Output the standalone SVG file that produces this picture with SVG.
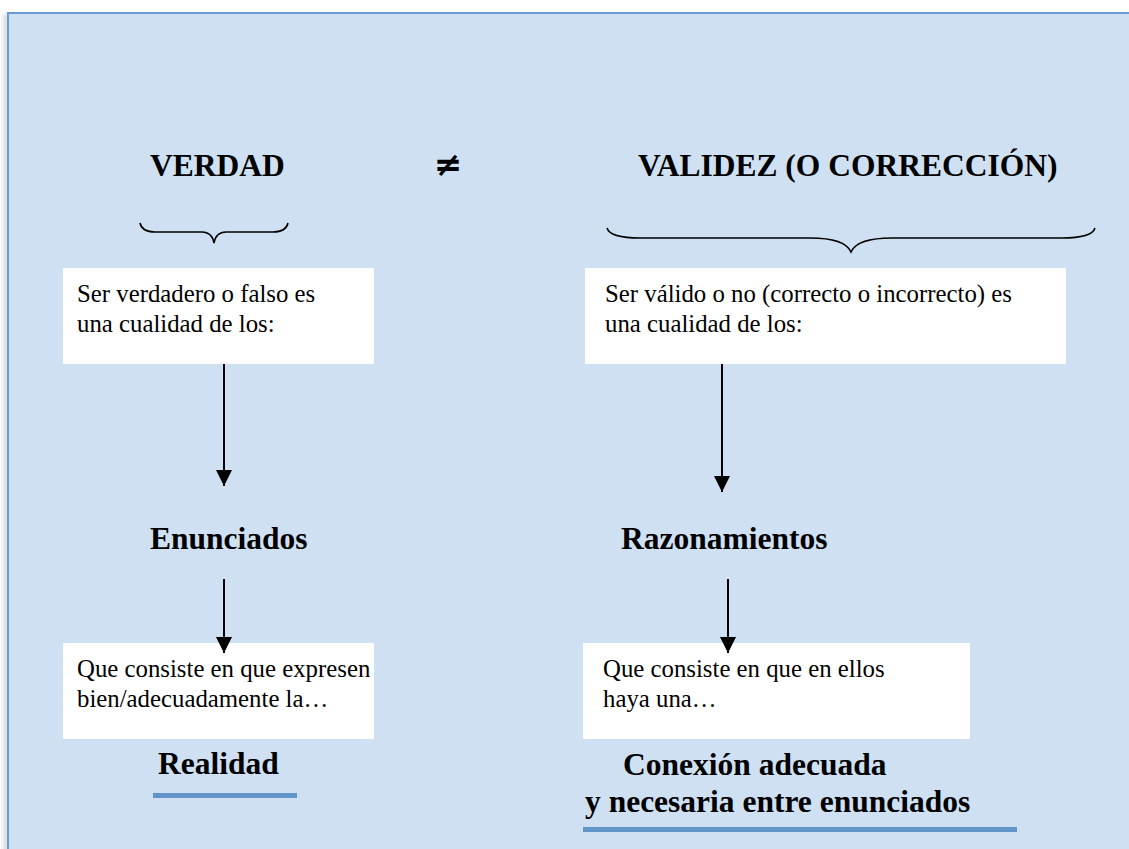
<svg xmlns="http://www.w3.org/2000/svg" width="1129" height="849" viewBox="0 0 1129 849">
<defs>
<style>
.h{font-family:"Liberation Serif","Times New Roman",serif;font-weight:bold;font-size:31.5px;fill:#000}
.t{font-family:"Liberation Serif","Times New Roman",serif;font-size:24.8px;fill:#000}
.box{fill:#fff;stroke:none}
.conn{stroke:#000;stroke-width:2;fill:none}
.brace{stroke:#000;stroke-width:1.6;fill:none}
.ul{stroke:#6194c9;stroke-width:5}
</style>
<marker id="ah" viewBox="0 0 16 16" refX="16" refY="8" markerWidth="16" markerHeight="16" markerUnits="userSpaceOnUse" orient="auto">
<path d="M0,0 L16,8 L0,16 Z" fill="#000"/>
</marker>
<filter id="sh" x="-20%" y="-50%" width="140%" height="400%">
<feGaussianBlur stdDeviation="2"/>
</filter>
</defs>
<rect x="0" y="0" width="1129" height="849" fill="#fff"/>
<rect x="3" y="14" width="8" height="840" fill="#ddd" filter="url(#sh)"/>
<rect id="panel" x="8" y="13" width="1130" height="850" fill="#cfe0f2" stroke="#6a9bd0" stroke-width="2"/>

<g id="titulo-verdad"><text class="h" x="150" y="176">VERDAD</text></g>
<g id="distinto"><text x="448" y="176" text-anchor="middle" style="font-family:'DejaVu Sans',sans-serif;font-weight:bold;font-size:34px">≠</text></g>
<g id="titulo-validez"><text class="h" x="638" y="176">VALIDEZ (O CORRECCIÓN)</text></g>

<g id="llave-izq"><path class="brace" d="M140,223 Q142,232 155,232 L202,232 Q212,232 214,243 Q216,232 226,232 L273,232 Q286,232 288,223"/></g>
<g id="llave-der"><path class="brace" d="M607,228 Q610,238 640,238 L810,238 Q845,238 851,252 Q857,238 892,238 L1062,238 Q1092,238 1095,228"/></g>

<g id="caja-verdad">
<rect class="box" x="63" y="268" width="311" height="96"/>
<text class="t" x="77" y="302">Ser verdadero o falso es</text>
<text class="t" x="77" y="332">una cualidad de los:</text>
</g>
<g id="caja-validez">
<rect class="box" x="585" y="268" width="481" height="96"/>
<text class="t" x="605" y="302">Ser válido o no (correcto o incorrecto) es</text>
<text class="t" x="605" y="332">una cualidad de los:</text>
</g>

<g id="enunciados"><text class="h" x="150" y="549">Enunciados</text></g>
<g id="razonamientos"><text class="h" x="621" y="549">Razonamientos</text></g>

<g id="caja-realidad">
<rect class="box" x="63" y="643" width="311" height="96"/>
<text class="t" x="77" y="677">Que consiste en que expresen</text>
<text class="t" x="77" y="707">bien/adecuadamente la…</text>
</g>
<g id="caja-conexion">
<rect class="box" x="583" y="643" width="387" height="96"/>
<text class="t" x="603" y="677">Que consiste en que en ellos</text>
<text class="t" x="603" y="707">haya una…</text>
</g>

<g id="realidad">
<text class="h" x="158" y="774">Realidad</text>
<line x1="153" y1="799" x2="297" y2="799" stroke="#555" stroke-width="4" opacity="0.5" filter="url(#sh)"/>
<line class="ul" x1="153" y1="795.5" x2="297" y2="795.5"/>
</g>
<g id="conexion">
<text class="h" x="623" y="775">Conexión adecuada</text>
<text class="h" x="585" y="812">y necesaria entre enunciados</text>
<line x1="583" y1="833" x2="1017" y2="833" stroke="#555" stroke-width="4" opacity="0.5" filter="url(#sh)"/>
<line class="ul" x1="583" y1="829.5" x2="1017" y2="829.5"/>
</g>

<g id="conectores">
<line class="conn" x1="224" y1="364" x2="224" y2="486" marker-end="url(#ah)"/>
<line class="conn" x1="722" y1="364" x2="722" y2="492" marker-end="url(#ah)"/>
<line class="conn" x1="224" y1="579" x2="224" y2="653" marker-end="url(#ah)"/>
<line class="conn" x1="728" y1="579" x2="728" y2="653" marker-end="url(#ah)"/>
</g>
</svg>
